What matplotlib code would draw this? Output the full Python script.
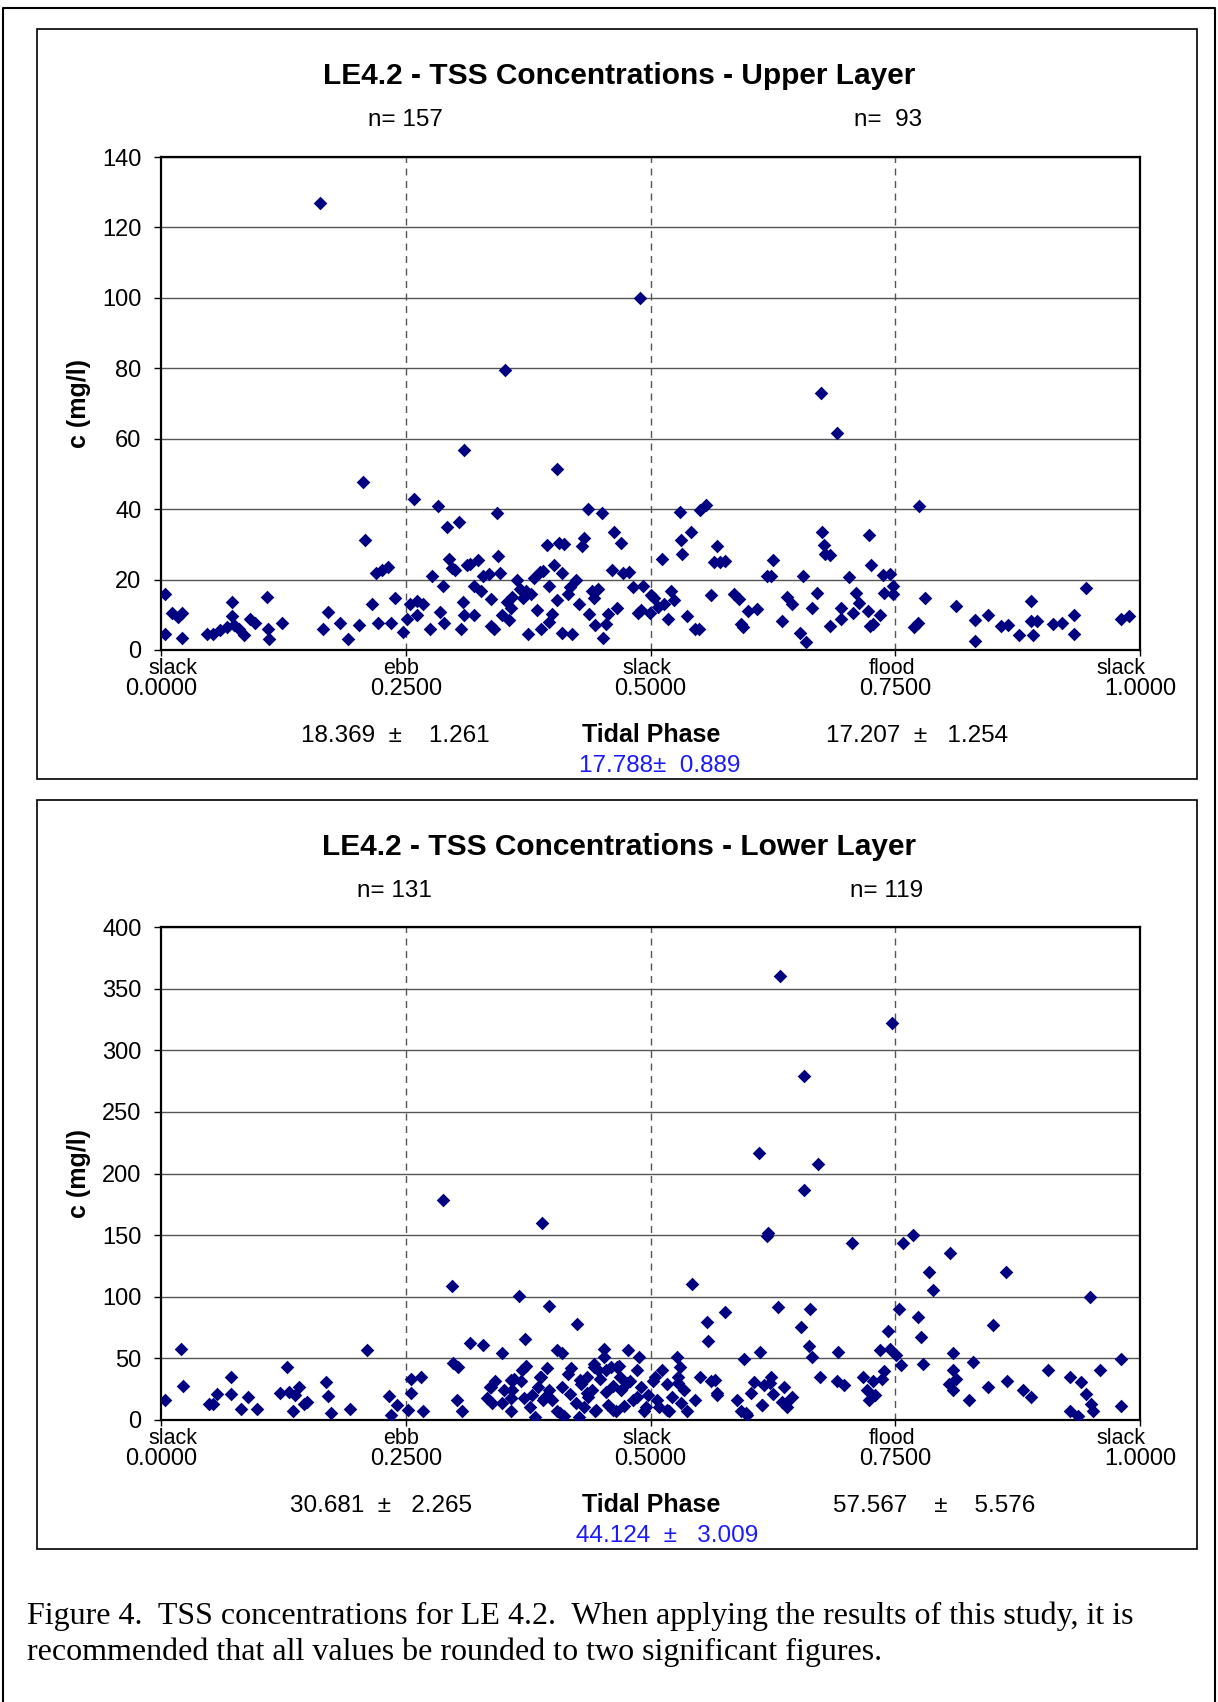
import matplotlib
matplotlib.use("Agg")
import matplotlib.pyplot as plt
from matplotlib.lines import Line2D
from matplotlib.patches import Rectangle

plt.rcParams["font.family"] = ["Liberation Sans", "DejaVu Sans"]

W, H = 1218, 1702

# --- data ---
upper_phase = [
    0.004, 0.004, 0.011, 0.017, 0.021, 0.021, 0.047, 0.053, 0.060, 0.067, 0.073, 0.073, 0.075, 0.080,
    0.085, 0.091, 0.096, 0.108, 0.109, 0.110, 0.124,
    0.162, 0.165, 0.171, 0.183, 0.191, 0.202, 0.206, 0.208, 0.216, 0.220, 0.226, 0.232, 0.222, 0.235,
    0.239, 0.247, 0.251, 0.254, 0.258, 0.261,
    0.268, 0.275, 0.277, 0.283, 0.285, 0.288, 0.292, 0.294, 0.297, 0.300, 0.304, 0.306, 0.309, 0.310,
    0.313, 0.316, 0.320, 0.324, 0.329, 0.335, 0.337, 0.340, 0.343, 0.344,
    0.346, 0.348, 0.351, 0.353, 0.355, 0.359, 0.364, 0.367, 0.370, 0.375, 0.378, 0.381, 0.387, 0.390,
    0.394, 0.396, 0.399, 0.401, 0.405, 0.407, 0.410, 0.412, 0.416, 0.418, 0.420,
    0.424, 0.430, 0.432, 0.436, 0.437, 0.440, 0.443, 0.446, 0.450, 0.451, 0.455, 0.457, 0.461, 0.463,
    0.470, 0.472, 0.478, 0.482, 0.487, 0.489, 0.490, 0.492,
    0.357, 0.384, 0.404, 0.427, 0.442, 0.373, 0.396, 0.337, 0.327, 0.388, 0.410, 0.466, 0.308, 0.289,
    0.262, 0.320,
    0.504, 0.508, 0.512, 0.514, 0.521, 0.524, 0.530, 0.531, 0.532, 0.537, 0.541, 0.545, 0.550, 0.551,
    0.557, 0.562, 0.565, 0.568, 0.571, 0.576,
    0.585, 0.590, 0.592, 0.594, 0.600, 0.609, 0.619, 0.623, 0.625, 0.634, 0.639, 0.645, 0.653, 0.656,
    0.659, 0.665, 0.670, 0.674, 0.675, 0.677, 0.678, 0.683, 0.691, 0.683,
    0.695, 0.695, 0.703, 0.707, 0.710, 0.713, 0.722, 0.723, 0.724, 0.725, 0.727, 0.734, 0.737, 0.739,
    0.745, 0.748, 0.748, 0.774, 0.769, 0.773, 0.780,
    0.812, 0.831, 0.831, 0.845, 0.858, 0.865, 0.876, 0.889, 0.889, 0.891, 0.895, 0.911, 0.920, 0.933,
    0.933, 0.945, 0.981, 0.989, 0.499, 0.518, 0.501,
]
upper_conc = [
    16.0, 4.6, 10.5, 9.3, 10.5, 3.4, 4.6, 4.6, 5.6, 6.5, 13.6, 9.6, 7.1, 5.9,
    4.3, 8.9, 7.7, 15.1, 5.9, 3.1, 7.7,
    127.0, 5.9, 10.8, 7.7, 3.1, 7.1, 47.8, 31.1, 13.0, 21.9, 22.8, 23.7, 7.7, 7.7,
    14.8, 5.2, 8.9, 13.0, 42.9, 13.9,
    13.0, 5.9, 21.0, 41.0, 10.8, 18.2, 34.8, 25.9, 23.4, 22.8, 36.4, 5.9, 56.7, 9.9,
    24.0, 24.4, 9.9, 25.6, 21.0, 21.6, 6.8, 5.9, 38.9, 26.8,
    21.9, 9.9, 79.6, 13.6, 8.6, 15.1, 20.0, 17.3, 14.8, 4.6, 16.0, 20.4, 22.2, 22.5,
    29.9, 8.0, 10.2, 24.0, 51.5, 30.5, 21.9, 30.2, 16.0, 17.9, 4.6,
    20.0, 29.6, 31.8, 40.1, 10.2, 16.7, 7.1, 17.3, 38.9, 3.4, 7.4, 10.2, 22.8, 33.6,
    30.5, 21.9, 22.2, 17.9, 10.5, 99.9, 11.4, 18.2,
    12.0, 11.4, 14.2, 13.0, 14.8, 16.7, 18.2, 14.5, 16.7, 5.9, 4.9, 12.0, 13.6, 7.7,
    9.9, 18.2,
    14.8, 12.3, 25.9, 13.0, 16.7, 14.2, 39.2, 31.1, 27.4, 9.6, 33.6, 5.9, 5.9, 39.8,
    41.3, 15.7, 25.0, 29.6, 25.0, 25.3,
    16.0, 14.5, 7.4, 6.5, 11.1, 11.7, 21.0, 21.0, 25.6, 8.3, 15.1, 13.0, 4.9, 21.0,
    2.2, 12.0, 16.3, 73.1, 33.6, 29.9, 27.4, 27.1, 61.7, 6.8,
    12.0, 8.9, 20.7, 10.5, 16.3, 13.3, 11.1, 32.7, 6.8, 24.0, 7.4, 9.9, 21.3, 16.3,
    21.6, 16.0, 18.2, 41.0, 6.5, 7.7, 14.8,
    12.6, 2.5, 8.6, 9.9, 6.8, 7.1, 4.3, 8.3, 13.9, 4.3, 8.3, 7.4, 7.7, 4.6,
    9.9, 17.6, 8.9, 9.6, 10.5, 8.9, 15.7,
]

lower_phase = [
    0.004, 0.020, 0.022, 0.049, 0.053, 0.057, 0.071, 0.072, 0.082, 0.089, 0.098, 0.122, 0.129, 0.131,
    0.135, 0.137, 0.141, 0.146, 0.149, 0.169, 0.171, 0.174, 0.193, 0.210, 0.233, 0.235, 0.241, 0.252,
    0.255, 0.255, 0.268, 0.266, 0.288, 0.297, 0.298, 0.303, 0.302, 0.307, 0.316, 0.329, 0.333, 0.337,
    0.341, 0.348, 0.350, 0.357, 0.361, 0.366, 0.368, 0.373, 0.372, 0.379, 0.389, 0.390, 0.388, 0.394,
    0.396, 0.425, 0.405, 0.410, 0.399, 0.405, 0.412, 0.410, 0.418, 0.424, 0.429, 0.432, 0.436, 0.440,
    0.443, 0.446, 0.448, 0.452, 0.453, 0.455, 0.457, 0.460, 0.462, 0.465, 0.468, 0.470, 0.473, 0.477,
    0.479, 0.482, 0.486, 0.488, 0.490, 0.493, 0.497, 0.435, 0.419, 0.396, 0.385, 0.442, 0.427, 0.469,
    0.348, 0.357, 0.377, 0.382, 0.371, 0.359,
    0.336, 0.338, 0.358, 0.358, 0.369, 0.387, 0.391, 0.408, 0.416, 0.428, 0.435, 0.442, 0.444, 0.455,
    0.462, 0.466, 0.476, 0.486, 0.495,
    0.503, 0.507, 0.509, 0.512, 0.517, 0.519, 0.522, 0.527, 0.528, 0.531, 0.534, 0.537, 0.542, 0.545,
    0.551, 0.558, 0.559, 0.562, 0.568, 0.576, 0.588, 0.592, 0.599, 0.596, 0.603, 0.606, 0.611, 0.612,
    0.614, 0.616, 0.619, 0.620, 0.623, 0.625, 0.630, 0.632, 0.634, 0.636, 0.639, 0.645, 0.654, 0.657,
    0.657, 0.662, 0.663, 0.665, 0.671, 0.673, 0.690, 0.692, 0.698, 0.706, 0.717, 0.721, 0.723, 0.727,
    0.729, 0.734, 0.736, 0.739, 0.743, 0.745, 0.747, 0.751, 0.754, 0.756, 0.758, 0.768, 0.773, 0.776,
    0.778, 0.784, 0.789, 0.805, 0.806, 0.809, 0.809, 0.809, 0.812, 0.825, 0.829, 0.845, 0.850, 0.863,
    0.864, 0.880, 0.889, 0.906, 0.928, 0.928, 0.937, 0.940, 0.945, 0.949, 0.950, 0.952, 0.959, 0.981,
    0.981,
    0.505, 0.517, 0.528, 0.530, 0.566, 0.568, 0.598, 0.614, 0.622, 0.638,
]
lower_conc = [
    15.9, 58.0, 27.3, 13.2, 13.2, 21.1, 35.2, 21.1, 8.8, 18.5, 8.8, 22.0, 43.2, 22.9,
    7.0, 20.3, 26.4, 13.2, 15.0, 30.8, 19.4, 5.3, 8.8, 56.4, 19.4, 4.4, 12.3, 7.9,
    22.0, 33.5, 7.0, 35.2, 178.9, 109.0, 46.0, 43.0, 15.9, 7.0, 62.5, 61.0, 17.6, 26.4,
    31.7, 54.6, 24.7, 17.6, 33.5, 100.4, 31.7, 44.0, 66.0, 20.3, 159.5, 15.9, 35.2, 42.3,
    92.5, 77.5, 57.0, 54.6, 15.9, 7.0, 3.5, 26.4, 21.1, 14.0, 29.0, 10.6, 18.5, 24.7,
    7.0, 40.5, 33.5, 58.0, 51.0, 22.9, 12.3, 43.2, 27.3, 7.0, 44.0, 24.7, 11.5, 56.4,
    31.7, 15.9, 40.5, 51.0, 26.4, 7.0, 20.3, 35.2, 42.3, 24.7, 26.4, 45.8, 2.6, 35.2,
    14.0, 7.0, 10.6, 2.6, 17.6, 24.7,
    27.0, 13.5, 32.4, 17.6, 40.5, 35.2, 17.6, 5.4, 37.3, 32.4, 21.6, 43.3, 8.1, 40.5,
    8.1, 43.3, 29.8, 18.9, 10.7,
    31.7, 15.9, 10.6, 40.5, 29.0, 7.0, 18.5, 51.0, 35.2, 14.0, 24.7, 7.0, 110.0, 15.9,
    35.2, 79.3, 64.0, 31.7, 22.0, 88.0, 15.9, 7.0, 4.4, 49.3, 22.0, 30.8, 216.7, 55.5,
    12.3, 28.2, 149.0, 151.5, 35.2, 21.1, 91.6, 360.0, 15.0, 26.4, 10.6, 18.5, 75.8, 279.0,
    187.0, 60.0, 90.0, 51.0, 208.0, 35.2, 31.7, 55.5, 28.2, 143.6, 35.2, 24.7, 15.9, 31.7,
    20.3, 57.0, 33.5, 39.6, 72.0, 58.0, 322.5, 52.9, 90.0, 45.0, 143.6, 150.0, 83.7, 67.0,
    45.8, 120.0, 105.7, 29.0, 135.7, 54.6, 40.5, 24.7, 33.5, 15.9, 46.7, 26.4, 76.7, 120.0,
    31.7, 24.7, 18.5, 40.5, 35.2, 7.0, 3.5, 30.8, 21.1, 99.6, 13.2, 7.0, 40.5, 49.3,
    11.5,
    35.2, 8.1, 29.8, 43.3, 32.4, 20.3, 5.4, 12.2, 29.8, 13.5,
]

phase_ticks = [0.0, 0.25, 0.5, 0.75, 1.0]
phase_names = ["slack", "ebb", "slack", "flood", "slack"]
phase_name_pos = [0.012, 0.245, 0.496, 0.747, 0.981]

panels = [
    {
        "title": "LE4.2 - TSS Concentrations - Upper Layer",
        "x": upper_phase, "y": upper_conc, "ymax": 140, "ystep": 20,
        "n": ("n= 157", "n=  93"), "n_x": (405, 888),
        "stats": ("18.369  \u00b1    1.261", "17.207  \u00b1   1.254"), "stats_x": (395, 917),
        "total": "17.788\u00b1  0.889", "total_x": 660,
        "box_top": 29, "box_bot": 779, "ax_top": 157, "ax_bot": 650,
    },
    {
        "title": "LE4.2 - TSS Concentrations - Lower Layer",
        "x": lower_phase, "y": lower_conc, "ymax": 400, "ystep": 50,
        "n": ("n= 131", "n= 119"), "n_x": (394, 887),
        "stats": ("30.681  \u00b1   2.265", "57.567    \u00b1    5.576"), "stats_x": (381, 934),
        "total": "44.124  \u00b1   3.009", "total_x": 667,
        "box_top": 800, "box_bot": 1549, "ax_top": 927, "ax_bot": 1420,
    },
]


def fx(x):
    return x / W


def fy(y):
    return 1 - y / H


fig = plt.figure(figsize=(W / 100, H / 100), dpi=100)

# page frame (left, top, right)
fig.add_artist(Line2D([fx(3), fx(3), fx(1215), fx(1215)], [fy(1702), fy(8), fy(8), fy(1702)],
                      color="black", lw=1.5, transform=fig.transFigure))

ax_left, ax_right = 161, 1140
for p in panels:
    # chart box
    fig.add_artist(Rectangle((fx(37), fy(p["box_bot"])), fx(1197) - fx(37),
                             fy(p["box_top"]) - fy(p["box_bot"]), fill=False,
                             edgecolor="black", lw=1.2, transform=fig.transFigure))

    ax = fig.add_axes([fx(ax_left), fy(p["ax_bot"]), fx(ax_right) - fx(ax_left),
                       (p["ax_bot"] - p["ax_top"]) / H])
    ax.scatter(p["x"], p["y"], marker="D", s=48, color="#000080", linewidths=0, zorder=3)
    ax.set_xlim(0, 1)
    ax.set_ylim(0, p["ymax"])
    ax.set_yticks(range(0, p["ymax"] + 1, p["ystep"]))
    ax.set_xticks(phase_ticks)
    ax.set_xticklabels([f"{t:.4f}" for t in phase_ticks])
    ax.tick_params(axis="y", length=5, width=1, pad=9, labelsize=17, direction="out")
    ax.tick_params(axis="x", length=4, width=1, pad=16, labelsize=17, direction="out")
    ax.yaxis.grid(True, color="#555555", lw=1)
    for t in phase_ticks[1:-1]:
        ax.axvline(t, color="#555555", lw=1, ls=(0, (5, 4)), zorder=1)
    ax.set_axisbelow(True)
    for s in ax.spines.values():
        s.set_linewidth(1.6)
    for name, pos in zip(phase_names, phase_name_pos):
        ax.annotate(name, (pos, 0), xycoords=("data", "axes fraction"), xytext=(0, -13),
                    textcoords="offset points", ha="center", va="center", fontsize=15.5)

    mid = (p["ax_top"] + p["ax_bot"]) / 2
    fig.text(fx(79), fy(mid), "c (mg/l)", rotation=90, ha="center", va="center",
             fontsize=18, fontweight="bold")

    top = p["box_top"]
    fig.text(fx(619), fy(top + 47), p["title"], ha="center", va="center",
             fontsize=21.5, fontweight="bold")
    fig.text(fx(p["n_x"][0]), fy(top + 91), p["n"][0], ha="center", va="center", fontsize=17.5)
    fig.text(fx(p["n_x"][1]), fy(top + 91), p["n"][1], ha="center", va="center", fontsize=17.5)
    base = p["ax_bot"]
    fig.text(fx(p["stats_x"][0]), fy(base + 86), p["stats"][0], ha="center", va="center",
             fontsize=17.5)
    fig.text(fx(651), fy(base + 85), "Tidal Phase", ha="center", va="center",
             fontsize=18, fontweight="bold")
    fig.text(fx(p["stats_x"][1]), fy(base + 86), p["stats"][1], ha="center", va="center",
             fontsize=17.5)
    fig.text(fx(p["total_x"]), fy(base + 116), p["total"], ha="center", va="center",
             fontsize=17.5, color="#1a1aff")

caption_lines = [
    "Figure 4.  TSS concentrations for LE 4.2.  When applying the results of this study, it is",
    "recommended that all values be rounded to two significant figures.",
]
for i, line in enumerate(caption_lines):
    fig.text(fx(27), fy(1616 + 36 * i), line, ha="left", va="center", fontsize=23,
             family=["Liberation Serif", "DejaVu Serif"])

fig.savefig("out.png", dpi=100)
